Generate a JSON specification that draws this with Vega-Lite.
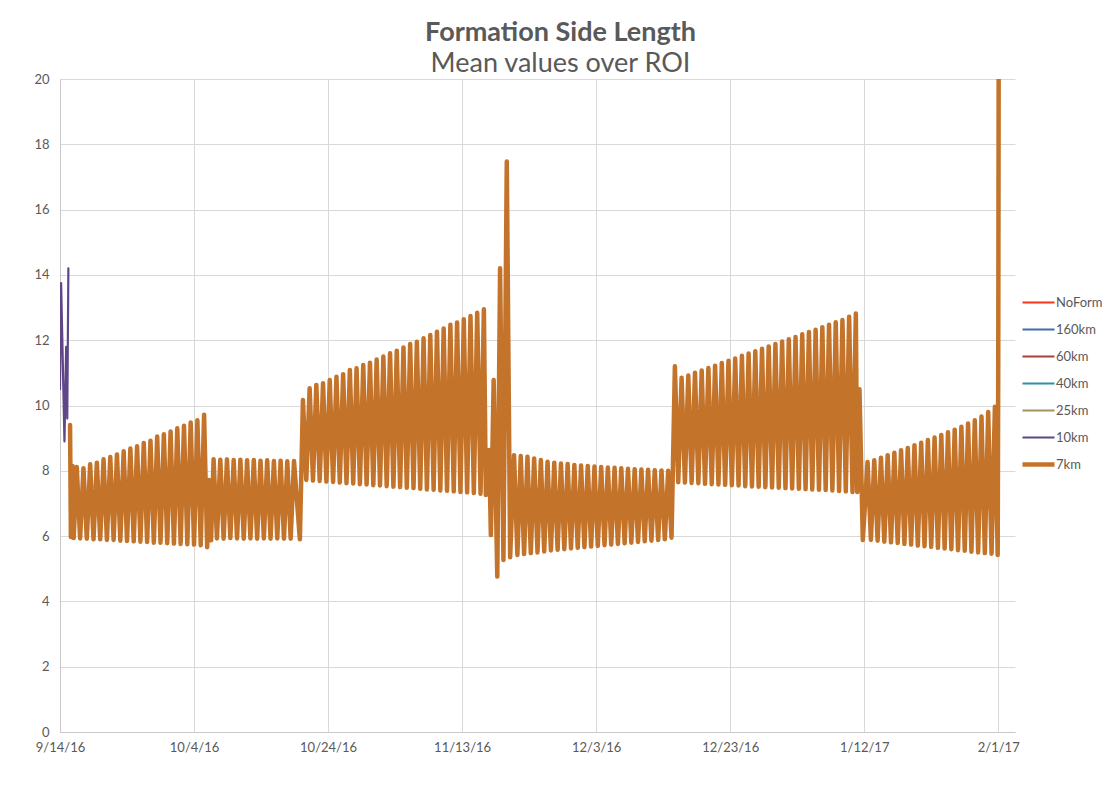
{
"$schema":"https://vega.github.io/schema/vega-lite/v6.json",
"width":955,"height":653,
"autosize":{"type":"none"},
"padding":{"left":60,"top":79,"right":95,"bottom":73},
"background":"white",
"title":{"text":"Formation Side Length","subtitle":"Mean values over ROI","anchor":"middle","dx":23,"font":"Lato","fontSize":27,"fontWeight":"bold","color":"#595959","subtitleFont":"Lato","subtitleFontSize":27,"subtitleColor":"#595959","subtitlePadding":4,"offset":-5},
"config":{
 "view":{"stroke":null},
 "axis":{"labelFont":"Lato","labelFontSize":13,"labelColor":"#595959","ticks":false,"gridColor":"#d9d9d9","domainColor":"#c8c8c8","title":null}
},
"data":{"values":[
{"s":"10km","t":"2016-09-14T00:00","v":10.5},
{"s":"10km","t":"2016-09-14T04:00","v":13.75},
{"s":"10km","t":"2016-09-14T16:00","v":8.9},
{"s":"10km","t":"2016-09-14T22:00","v":11.8},
{"s":"10km","t":"2016-09-15T02:00","v":9.6},
{"s":"10km","t":"2016-09-15T06:00","v":14.2},
{"s":"7km","t":"2016-09-15T12:00","v":9.4},
{"s":"7km","t":"2016-09-15T15:00","v":5.97},
{"s":"7km","t":"2016-09-15T21:00","v":8.15},
{"s":"7km","t":"2016-09-16T01:00","v":5.94},
{"s":"7km","t":"2016-09-16T12:00","v":8.12},
{"s":"7km","t":"2016-09-17T00:00","v":5.93},
{"s":"7km","t":"2016-09-17T12:00","v":8.08},
{"s":"7km","t":"2016-09-18T00:00","v":5.92},
{"s":"7km","t":"2016-09-18T12:00","v":8.2},
{"s":"7km","t":"2016-09-19T00:00","v":5.9},
{"s":"7km","t":"2016-09-19T12:00","v":8.25},
{"s":"7km","t":"2016-09-20T00:00","v":5.9},
{"s":"7km","t":"2016-09-20T12:00","v":8.35},
{"s":"7km","t":"2016-09-21T00:00","v":5.88},
{"s":"7km","t":"2016-09-21T12:00","v":8.42},
{"s":"7km","t":"2016-09-22T00:00","v":5.88},
{"s":"7km","t":"2016-09-22T12:00","v":8.5},
{"s":"7km","t":"2016-09-23T00:00","v":5.86},
{"s":"7km","t":"2016-09-23T12:00","v":8.6},
{"s":"7km","t":"2016-09-24T00:00","v":5.85},
{"s":"7km","t":"2016-09-24T12:00","v":8.68},
{"s":"7km","t":"2016-09-25T00:00","v":5.84},
{"s":"7km","t":"2016-09-25T12:00","v":8.75},
{"s":"7km","t":"2016-09-26T00:00","v":5.83},
{"s":"7km","t":"2016-09-26T12:00","v":8.85},
{"s":"7km","t":"2016-09-27T00:00","v":5.82},
{"s":"7km","t":"2016-09-27T12:00","v":8.92},
{"s":"7km","t":"2016-09-28T00:00","v":5.8},
{"s":"7km","t":"2016-09-28T12:00","v":9.05},
{"s":"7km","t":"2016-09-29T00:00","v":5.8},
{"s":"7km","t":"2016-09-29T12:00","v":9.12},
{"s":"7km","t":"2016-09-30T00:00","v":5.78},
{"s":"7km","t":"2016-09-30T12:00","v":9.2},
{"s":"7km","t":"2016-10-01T00:00","v":5.77},
{"s":"7km","t":"2016-10-01T12:00","v":9.3},
{"s":"7km","t":"2016-10-02T00:00","v":5.76},
{"s":"7km","t":"2016-10-02T12:00","v":9.38},
{"s":"7km","t":"2016-10-03T00:00","v":5.75},
{"s":"7km","t":"2016-10-03T12:00","v":9.48},
{"s":"7km","t":"2016-10-04T00:00","v":5.74},
{"s":"7km","t":"2016-10-04T12:00","v":9.55},
{"s":"7km","t":"2016-10-05T00:00","v":5.72},
{"s":"7km","t":"2016-10-05T12:00","v":9.72},
{"s":"7km","t":"2016-10-05T23:00","v":5.66},
{"s":"7km","t":"2016-10-06T06:00","v":7.72},
{"s":"7km","t":"2016-10-06T13:00","v":5.87},
{"s":"7km","t":"2016-10-06T22:00","v":8.35},
{"s":"7km","t":"2016-10-07T10:00","v":5.93},
{"s":"7km","t":"2016-10-07T22:00","v":8.34},
{"s":"7km","t":"2016-10-08T10:00","v":5.92},
{"s":"7km","t":"2016-10-08T22:00","v":8.35},
{"s":"7km","t":"2016-10-09T10:00","v":5.94},
{"s":"7km","t":"2016-10-09T22:00","v":8.33},
{"s":"7km","t":"2016-10-10T10:00","v":5.93},
{"s":"7km","t":"2016-10-10T22:00","v":8.34},
{"s":"7km","t":"2016-10-11T10:00","v":5.92},
{"s":"7km","t":"2016-10-11T22:00","v":8.32},
{"s":"7km","t":"2016-10-12T10:00","v":5.93},
{"s":"7km","t":"2016-10-12T22:00","v":8.33},
{"s":"7km","t":"2016-10-13T10:00","v":5.92},
{"s":"7km","t":"2016-10-13T22:00","v":8.31},
{"s":"7km","t":"2016-10-14T10:00","v":5.93},
{"s":"7km","t":"2016-10-14T22:00","v":8.32},
{"s":"7km","t":"2016-10-15T10:00","v":5.92},
{"s":"7km","t":"2016-10-15T22:00","v":8.3},
{"s":"7km","t":"2016-10-16T10:00","v":5.93},
{"s":"7km","t":"2016-10-16T22:00","v":8.31},
{"s":"7km","t":"2016-10-17T10:00","v":5.92},
{"s":"7km","t":"2016-10-17T22:00","v":8.29},
{"s":"7km","t":"2016-10-18T10:00","v":5.92},
{"s":"7km","t":"2016-10-18T22:00","v":8.3},
{"s":"7km","t":"2016-10-19T19:00","v":5.9},
{"s":"7km","t":"2016-10-20T06:00","v":10.17},
{"s":"7km","t":"2016-10-20T18:00","v":7.72},
{"s":"7km","t":"2016-10-21T06:00","v":10.53},
{"s":"7km","t":"2016-10-21T18:00","v":7.7},
{"s":"7km","t":"2016-10-22T06:00","v":10.63},
{"s":"7km","t":"2016-10-22T18:00","v":7.69},
{"s":"7km","t":"2016-10-23T06:00","v":10.68},
{"s":"7km","t":"2016-10-23T18:00","v":7.67},
{"s":"7km","t":"2016-10-24T06:00","v":10.78},
{"s":"7km","t":"2016-10-24T18:00","v":7.66},
{"s":"7km","t":"2016-10-25T06:00","v":10.88},
{"s":"7km","t":"2016-10-25T18:00","v":7.64},
{"s":"7km","t":"2016-10-26T06:00","v":10.96},
{"s":"7km","t":"2016-10-26T18:00","v":7.62},
{"s":"7km","t":"2016-10-27T06:00","v":11.09},
{"s":"7km","t":"2016-10-27T18:00","v":7.61},
{"s":"7km","t":"2016-10-28T06:00","v":11.14},
{"s":"7km","t":"2016-10-28T18:00","v":7.59},
{"s":"7km","t":"2016-10-29T06:00","v":11.24},
{"s":"7km","t":"2016-10-29T18:00","v":7.58},
{"s":"7km","t":"2016-10-30T06:00","v":11.31},
{"s":"7km","t":"2016-10-30T18:00","v":7.56},
{"s":"7km","t":"2016-10-31T06:00","v":11.41},
{"s":"7km","t":"2016-10-31T18:00","v":7.55},
{"s":"7km","t":"2016-11-01T06:00","v":11.5},
{"s":"7km","t":"2016-11-01T18:00","v":7.53},
{"s":"7km","t":"2016-11-02T06:00","v":11.6},
{"s":"7km","t":"2016-11-02T18:00","v":7.51},
{"s":"7km","t":"2016-11-03T06:00","v":11.68},
{"s":"7km","t":"2016-11-03T18:00","v":7.5},
{"s":"7km","t":"2016-11-04T06:00","v":11.78},
{"s":"7km","t":"2016-11-04T18:00","v":7.48},
{"s":"7km","t":"2016-11-05T06:00","v":11.88},
{"s":"7km","t":"2016-11-05T18:00","v":7.47},
{"s":"7km","t":"2016-11-06T06:00","v":11.95},
{"s":"7km","t":"2016-11-06T18:00","v":7.45},
{"s":"7km","t":"2016-11-07T06:00","v":12.06},
{"s":"7km","t":"2016-11-07T18:00","v":7.43},
{"s":"7km","t":"2016-11-08T06:00","v":12.16},
{"s":"7km","t":"2016-11-08T18:00","v":7.42},
{"s":"7km","t":"2016-11-09T06:00","v":12.26},
{"s":"7km","t":"2016-11-09T18:00","v":7.4},
{"s":"7km","t":"2016-11-10T06:00","v":12.36},
{"s":"7km","t":"2016-11-10T18:00","v":7.39},
{"s":"7km","t":"2016-11-11T06:00","v":12.47},
{"s":"7km","t":"2016-11-11T18:00","v":7.37},
{"s":"7km","t":"2016-11-12T06:00","v":12.54},
{"s":"7km","t":"2016-11-12T18:00","v":7.35},
{"s":"7km","t":"2016-11-13T06:00","v":12.64},
{"s":"7km","t":"2016-11-13T18:00","v":7.34},
{"s":"7km","t":"2016-11-14T06:00","v":12.74},
{"s":"7km","t":"2016-11-14T18:00","v":7.32},
{"s":"7km","t":"2016-11-15T06:00","v":12.84},
{"s":"7km","t":"2016-11-15T18:00","v":7.3},
{"s":"7km","t":"2016-11-16T06:00","v":12.95},
{"s":"7km","t":"2016-11-16T13:00","v":7.26},
{"s":"7km","t":"2016-11-17T01:00","v":8.64},
{"s":"7km","t":"2016-11-17T07:00","v":6.03},
{"s":"7km","t":"2016-11-17T17:00","v":10.78},
{"s":"7km","t":"2016-11-18T06:00","v":4.76},
{"s":"7km","t":"2016-11-18T16:00","v":14.2},
{"s":"7km","t":"2016-11-19T04:00","v":5.27},
{"s":"7km","t":"2016-11-19T16:00","v":17.47},
{"s":"7km","t":"2016-11-20T04:00","v":5.35},
{"s":"7km","t":"2016-11-20T18:00","v":8.48},
{"s":"7km","t":"2016-11-21T06:00","v":5.42},
{"s":"7km","t":"2016-11-21T18:00","v":8.45},
{"s":"7km","t":"2016-11-22T06:00","v":5.45},
{"s":"7km","t":"2016-11-22T18:00","v":8.43},
{"s":"7km","t":"2016-11-23T06:00","v":5.48},
{"s":"7km","t":"2016-11-23T18:00","v":8.38},
{"s":"7km","t":"2016-11-24T06:00","v":5.5},
{"s":"7km","t":"2016-11-24T18:00","v":8.33},
{"s":"7km","t":"2016-11-25T06:00","v":5.53},
{"s":"7km","t":"2016-11-25T18:00","v":8.28},
{"s":"7km","t":"2016-11-26T06:00","v":5.56},
{"s":"7km","t":"2016-11-26T18:00","v":8.25},
{"s":"7km","t":"2016-11-27T06:00","v":5.58},
{"s":"7km","t":"2016-11-27T18:00","v":8.22},
{"s":"7km","t":"2016-11-28T06:00","v":5.6},
{"s":"7km","t":"2016-11-28T18:00","v":8.21},
{"s":"7km","t":"2016-11-29T06:00","v":5.62},
{"s":"7km","t":"2016-11-29T18:00","v":8.18},
{"s":"7km","t":"2016-11-30T06:00","v":5.64},
{"s":"7km","t":"2016-11-30T18:00","v":8.16},
{"s":"7km","t":"2016-12-01T06:00","v":5.66},
{"s":"7km","t":"2016-12-01T18:00","v":8.15},
{"s":"7km","t":"2016-12-02T06:00","v":5.68},
{"s":"7km","t":"2016-12-02T18:00","v":8.13},
{"s":"7km","t":"2016-12-03T06:00","v":5.7},
{"s":"7km","t":"2016-12-03T18:00","v":8.12},
{"s":"7km","t":"2016-12-04T06:00","v":5.72},
{"s":"7km","t":"2016-12-04T18:00","v":8.1},
{"s":"7km","t":"2016-12-05T06:00","v":5.74},
{"s":"7km","t":"2016-12-05T18:00","v":8.09},
{"s":"7km","t":"2016-12-06T06:00","v":5.76},
{"s":"7km","t":"2016-12-06T18:00","v":8.08},
{"s":"7km","t":"2016-12-07T06:00","v":5.78},
{"s":"7km","t":"2016-12-07T18:00","v":8.06},
{"s":"7km","t":"2016-12-08T06:00","v":5.8},
{"s":"7km","t":"2016-12-08T18:00","v":8.05},
{"s":"7km","t":"2016-12-09T06:00","v":5.82},
{"s":"7km","t":"2016-12-09T18:00","v":8.04},
{"s":"7km","t":"2016-12-10T06:00","v":5.84},
{"s":"7km","t":"2016-12-10T18:00","v":8.03},
{"s":"7km","t":"2016-12-11T06:00","v":5.86},
{"s":"7km","t":"2016-12-11T18:00","v":8.02},
{"s":"7km","t":"2016-12-12T06:00","v":5.88},
{"s":"7km","t":"2016-12-12T18:00","v":8.01},
{"s":"7km","t":"2016-12-13T06:00","v":5.9},
{"s":"7km","t":"2016-12-13T18:00","v":8.0},
{"s":"7km","t":"2016-12-14T06:00","v":5.95},
{"s":"7km","t":"2016-12-14T18:00","v":11.2},
{"s":"7km","t":"2016-12-15T06:00","v":7.65},
{"s":"7km","t":"2016-12-15T18:00","v":10.85},
{"s":"7km","t":"2016-12-16T06:00","v":7.64},
{"s":"7km","t":"2016-12-16T18:00","v":10.92},
{"s":"7km","t":"2016-12-17T06:00","v":7.63},
{"s":"7km","t":"2016-12-17T18:00","v":11.0},
{"s":"7km","t":"2016-12-18T06:00","v":7.62},
{"s":"7km","t":"2016-12-18T18:00","v":11.07},
{"s":"7km","t":"2016-12-19T06:00","v":7.6},
{"s":"7km","t":"2016-12-19T18:00","v":11.15},
{"s":"7km","t":"2016-12-20T06:00","v":7.59},
{"s":"7km","t":"2016-12-20T18:00","v":11.22},
{"s":"7km","t":"2016-12-21T06:00","v":7.58},
{"s":"7km","t":"2016-12-21T18:00","v":11.3},
{"s":"7km","t":"2016-12-22T06:00","v":7.57},
{"s":"7km","t":"2016-12-22T18:00","v":11.37},
{"s":"7km","t":"2016-12-23T06:00","v":7.56},
{"s":"7km","t":"2016-12-23T18:00","v":11.44},
{"s":"7km","t":"2016-12-24T06:00","v":7.55},
{"s":"7km","t":"2016-12-24T18:00","v":11.52},
{"s":"7km","t":"2016-12-25T06:00","v":7.53},
{"s":"7km","t":"2016-12-25T18:00","v":11.59},
{"s":"7km","t":"2016-12-26T06:00","v":7.52},
{"s":"7km","t":"2016-12-26T18:00","v":11.66},
{"s":"7km","t":"2016-12-27T06:00","v":7.51},
{"s":"7km","t":"2016-12-27T18:00","v":11.74},
{"s":"7km","t":"2016-12-28T06:00","v":7.5},
{"s":"7km","t":"2016-12-28T18:00","v":11.81},
{"s":"7km","t":"2016-12-29T06:00","v":7.49},
{"s":"7km","t":"2016-12-29T18:00","v":11.88},
{"s":"7km","t":"2016-12-30T06:00","v":7.48},
{"s":"7km","t":"2016-12-30T18:00","v":11.96},
{"s":"7km","t":"2016-12-31T06:00","v":7.47},
{"s":"7km","t":"2016-12-31T18:00","v":12.03},
{"s":"7km","t":"2017-01-01T06:00","v":7.46},
{"s":"7km","t":"2017-01-01T18:00","v":12.1},
{"s":"7km","t":"2017-01-02T06:00","v":7.45},
{"s":"7km","t":"2017-01-02T18:00","v":12.18},
{"s":"7km","t":"2017-01-03T06:00","v":7.44},
{"s":"7km","t":"2017-01-03T18:00","v":12.25},
{"s":"7km","t":"2017-01-04T06:00","v":7.43},
{"s":"7km","t":"2017-01-04T18:00","v":12.32},
{"s":"7km","t":"2017-01-05T06:00","v":7.42},
{"s":"7km","t":"2017-01-05T18:00","v":12.4},
{"s":"7km","t":"2017-01-06T06:00","v":7.41},
{"s":"7km","t":"2017-01-06T18:00","v":12.47},
{"s":"7km","t":"2017-01-07T06:00","v":7.4},
{"s":"7km","t":"2017-01-07T18:00","v":12.55},
{"s":"7km","t":"2017-01-08T06:00","v":7.38},
{"s":"7km","t":"2017-01-08T18:00","v":12.62},
{"s":"7km","t":"2017-01-09T06:00","v":7.37},
{"s":"7km","t":"2017-01-09T18:00","v":12.72},
{"s":"7km","t":"2017-01-10T06:00","v":7.35},
{"s":"7km","t":"2017-01-10T18:00","v":12.82},
{"s":"7km","t":"2017-01-10T23:00","v":7.35},
{"s":"7km","t":"2017-01-11T07:00","v":10.5},
{"s":"7km","t":"2017-01-11T19:00","v":5.88},
{"s":"7km","t":"2017-01-12T12:00","v":8.27},
{"s":"7km","t":"2017-01-13T00:00","v":5.88},
{"s":"7km","t":"2017-01-13T12:00","v":8.32},
{"s":"7km","t":"2017-01-14T00:00","v":5.86},
{"s":"7km","t":"2017-01-14T12:00","v":8.4},
{"s":"7km","t":"2017-01-15T00:00","v":5.83},
{"s":"7km","t":"2017-01-15T12:00","v":8.48},
{"s":"7km","t":"2017-01-16T00:00","v":5.81},
{"s":"7km","t":"2017-01-16T12:00","v":8.55},
{"s":"7km","t":"2017-01-17T00:00","v":5.79},
{"s":"7km","t":"2017-01-17T12:00","v":8.63},
{"s":"7km","t":"2017-01-18T00:00","v":5.76},
{"s":"7km","t":"2017-01-18T12:00","v":8.7},
{"s":"7km","t":"2017-01-19T00:00","v":5.74},
{"s":"7km","t":"2017-01-19T12:00","v":8.78},
{"s":"7km","t":"2017-01-20T00:00","v":5.71},
{"s":"7km","t":"2017-01-20T12:00","v":8.86},
{"s":"7km","t":"2017-01-21T00:00","v":5.69},
{"s":"7km","t":"2017-01-21T12:00","v":8.94},
{"s":"7km","t":"2017-01-22T00:00","v":5.67},
{"s":"7km","t":"2017-01-22T12:00","v":9.02},
{"s":"7km","t":"2017-01-23T00:00","v":5.64},
{"s":"7km","t":"2017-01-23T12:00","v":9.1},
{"s":"7km","t":"2017-01-24T00:00","v":5.62},
{"s":"7km","t":"2017-01-24T12:00","v":9.18},
{"s":"7km","t":"2017-01-25T00:00","v":5.6},
{"s":"7km","t":"2017-01-25T12:00","v":9.26},
{"s":"7km","t":"2017-01-26T00:00","v":5.57},
{"s":"7km","t":"2017-01-26T12:00","v":9.35},
{"s":"7km","t":"2017-01-27T00:00","v":5.55},
{"s":"7km","t":"2017-01-27T12:00","v":9.45},
{"s":"7km","t":"2017-01-28T00:00","v":5.52},
{"s":"7km","t":"2017-01-28T12:00","v":9.55},
{"s":"7km","t":"2017-01-29T00:00","v":5.5},
{"s":"7km","t":"2017-01-29T12:00","v":9.66},
{"s":"7km","t":"2017-01-30T00:00","v":5.48},
{"s":"7km","t":"2017-01-30T12:00","v":9.8},
{"s":"7km","t":"2017-01-31T00:00","v":5.46},
{"s":"7km","t":"2017-01-31T12:00","v":9.96},
{"s":"7km","t":"2017-01-31T22:00","v":5.42},
{"s":"7km","t":"2017-02-01T00:00","v":11.2},
{"s":"7km","t":"2017-02-01T02:00","v":23}
]},
"mark":{"type":"line","strokeCap":"round","strokeJoin":"round","clip":true},
"encoding":{
 "x":{"field":"t","type":"temporal",
  "scale":{"domain":[{"year":2016,"month":9,"date":14},{"year":2017,"month":2,"date":3,"hours":12}]},
  "axis":{"values":[{"year":2016,"month":9,"date":14},{"year":2016,"month":10,"date":4},{"year":2016,"month":10,"date":24},{"year":2016,"month":11,"date":13},{"year":2016,"month":12,"date":3},{"year":2016,"month":12,"date":23},{"year":2017,"month":1,"date":12},{"year":2017,"month":2,"date":1}],"format":"%-m/%-d/%y","grid":true,"labelPadding":9,"labelFlush":false,"labelOverlap":false}},
 "y":{"field":"v","type":"quantitative","scale":{"domain":[0,20],"nice":false},
  "axis":{"values":[0,2,4,6,8,10,12,14,16,18,20],"grid":true,"labelPadding":11}},
 "color":{"field":"s","type":"nominal","sort":null,
  "scale":{"domain":["NoForm","160km","60km","40km","25km","10km","7km"],"range":["#F5361C","#3F6EA6","#A8403C","#2F91A9","#9E9560","#5E4688","#C4742A"]},
  "legend":{"orient":"none","legendX":960,"legendY":210,"title":null,"symbolType":"M-1,0H5.4","symbolSize":100,"clipHeight":27,"rowPadding":0,"labelFont":"Lato","labelFontSize":13,"labelColor":"#595959","labelOffset":21,"padding":0,
   "encode":{"symbols":{"update":{"size":{"value":100},"shape":{"value":"M-1,0H5.4"},"fill":{"value":"transparent"},"strokeWidth":{"signal":"datum.value === '7km' ? 4.5 : 2.2"}}}}}},
 "strokeWidth":{"field":"s","type":"nominal","sort":null,
  "scale":{"type":"ordinal","domain":["NoForm","160km","60km","40km","25km","10km","7km"],"range":[2.2,2.2,2.2,2.2,2.2,2.2,4.5]},
  "legend":null}
}
}
